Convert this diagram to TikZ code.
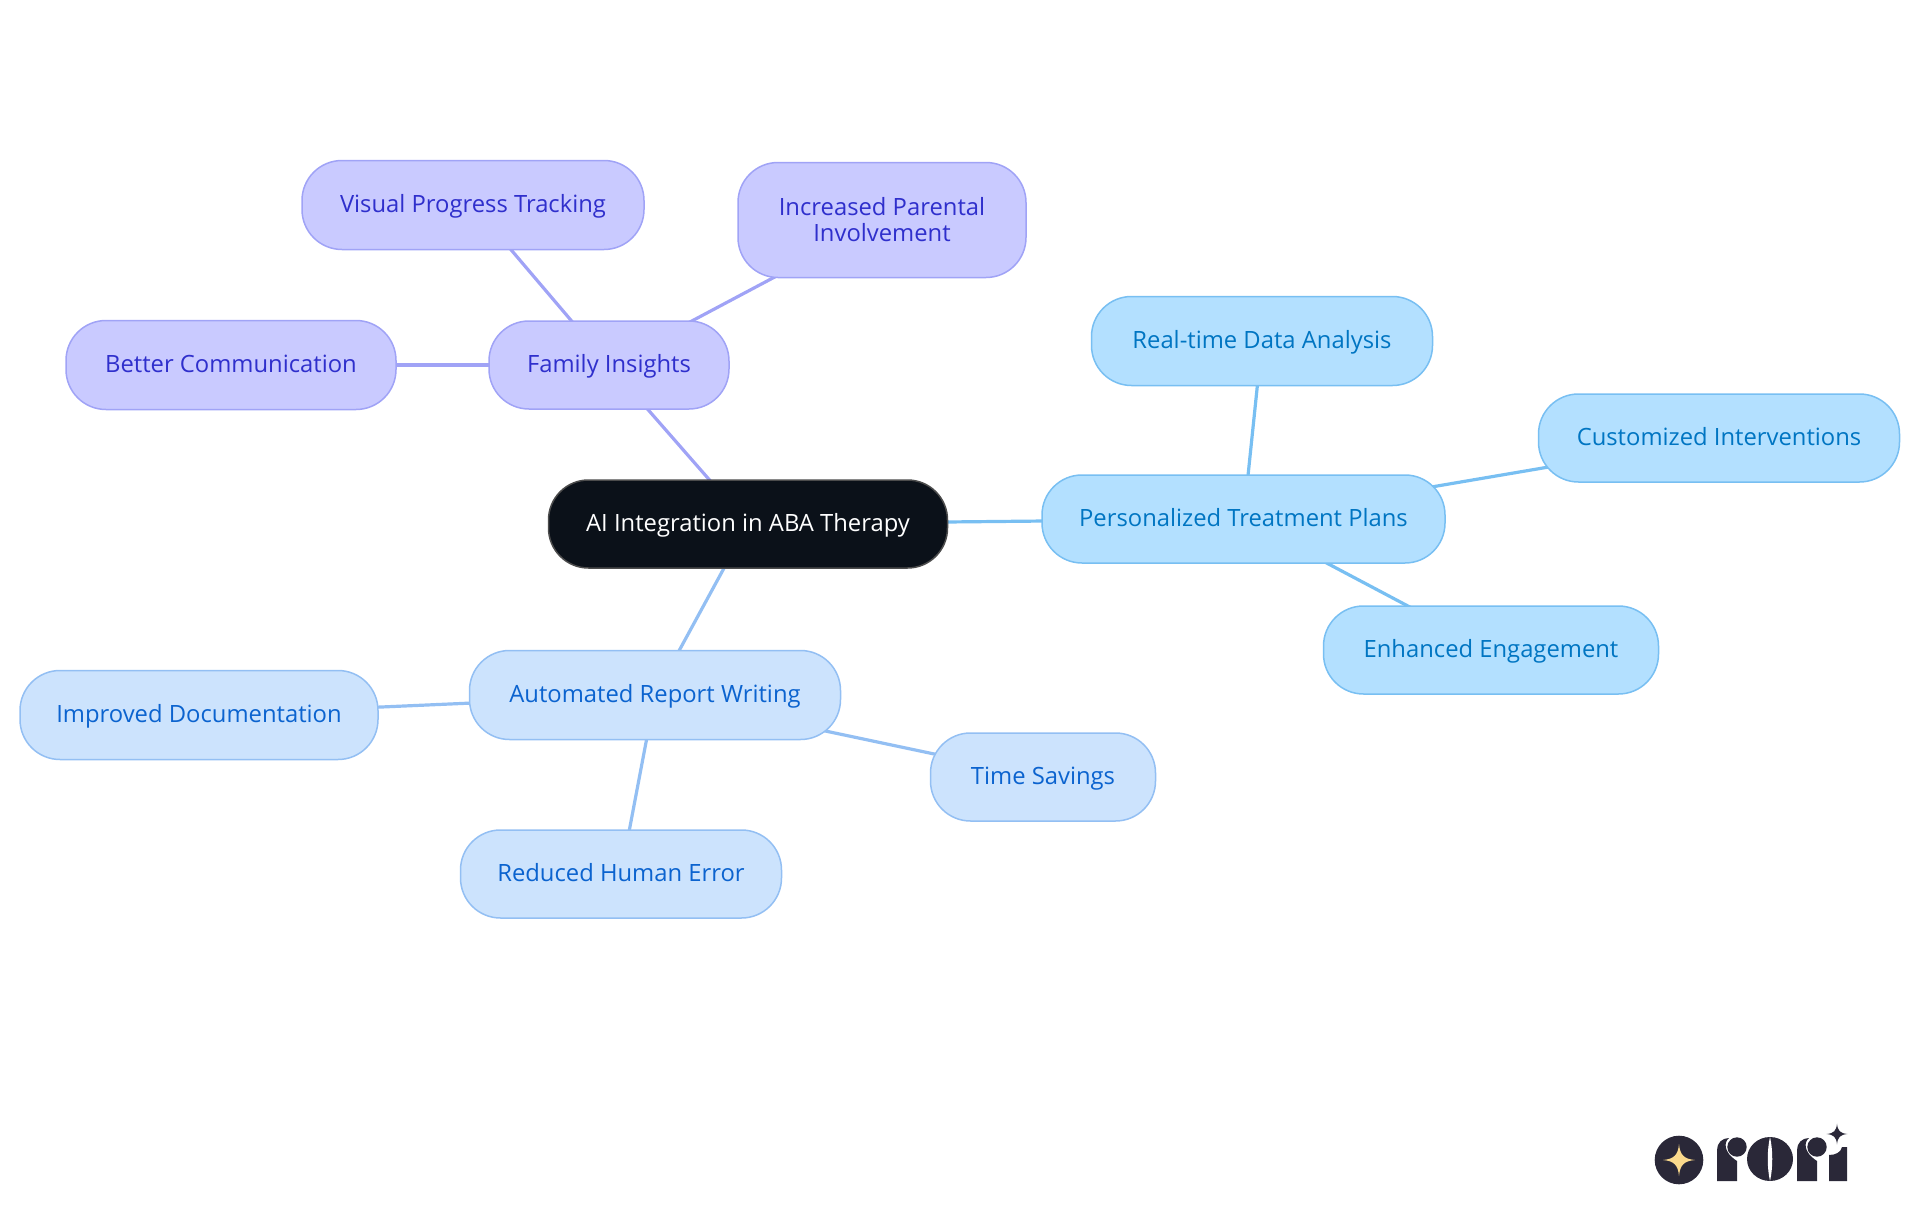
\documentclass[tikz,border=0pt]{standalone}
\usepackage{fontspec}
\setmainfont{Open Sans}
\usetikzlibrary{backgrounds}
\definecolor{rootfill}{HTML}{0B1119}
\definecolor{famfill}{HTML}{C9CAFF}
\definecolor{famline}{HTML}{A0A3F6}
\definecolor{famtext}{HTML}{2F2FCC}
\definecolor{planfill}{HTML}{B3E0FF}
\definecolor{planline}{HTML}{78BFF2}
\definecolor{plantext}{HTML}{0075C2}
\definecolor{repfill}{HTML}{CCE3FD}
\definecolor{repline}{HTML}{93BFF3}
\definecolor{reptext}{HTML}{0B63CF}
\definecolor{logodark}{HTML}{2A2838}
\definecolor{logostar}{HTML}{FAD98C}
\newcommand{\logostar}[4]{\fill[#4, shift={(#1,#2)}, scale=#3] (-16,0) .. controls (-5,-1) and (-1,-5) .. (0,-16) .. controls (1,-5) and (5,-1) .. (16,0) .. controls (5,1) and (1,5) .. (0,16) .. controls (-1,5) and (-5,1) .. (-16,0) -- cycle;}
\newcommand{\logor}[1]{\fill[logodark, shift={(#1,1137)}] (0,44) -- (0,13) .. controls (0,6) and (5,1) .. (12,1) .. controls (7,5) and (6,15) .. (20,24) -- (20,44) -- cycle;
  \fill[logodark, shift={(#1,1137)}] (20,10) circle[radius=9.7];}
\tikzset{
  box/.style={rectangle, rounded corners=40pt, line width=1.5pt, align=center, font=\fontsize{23.8}{26}\selectfont, inner sep=0pt, text height=19pt, text depth=5pt},
  rootbox/.style={box, draw=black!70, fill=rootfill, text=white},
  fambox/.style={box, draw=famline, fill=famfill, text=famtext},
  planbox/.style={box, draw=planline, fill=planfill, text=plantext},
  repbox/.style={box, draw=repline, fill=repfill, text=reptext},
  link/.style={line width=3.2pt},
}
\begin{document}
\begin{tikzpicture}[x=1pt, y=-1pt]
    \useasboundingbox (0,0) rectangle (1920,1215);
    \node (Root) at (748,524) [rootbox, minimum width=399pt, minimum height=88pt] {AI Integration in ABA Therapy};
    \node (Family) at (609,365) [fambox, minimum width=240pt, minimum height=88pt] {Family Insights};
    \node (Visual) at (473,205) [fambox, minimum width=342pt, minimum height=89pt] {Visual Progress Tracking};
    \node (Parental) at (882,220) [fambox, minimum width=288pt, minimum height=115pt, text height=, text depth=] {Increased Parental\\Involvement};
    \node (Better) at (231,365) [fambox, minimum width=330pt, minimum height=89pt] {Better Communication};
    \node (Plans) at (1243.5,519) [planbox, minimum width=403pt, minimum height=88pt] {Personalized Treatment Plans};
    \node (Realtime) at (1262,341) [planbox, minimum width=341pt, minimum height=89pt] {Real-time Data Analysis};
    \node (Custom) at (1719,438) [planbox, minimum width=361pt, minimum height=88pt] {Customized Interventions};
    \node (Engage) at (1491,650) [planbox, minimum width=335pt, minimum height=88pt] {Enhanced Engagement};
    \node (Report) at (655,695) [repbox, minimum width=371pt, minimum height=89pt] {Automated Report Writing};
    \node (Docs) at (199,715) [repbox, minimum width=358pt, minimum height=89pt] {Improved Documentation};
    \node (Time) at (1043,777) [repbox, minimum width=225pt, minimum height=88pt] {Time Savings};
    \node (Error) at (621,874) [repbox, minimum width=321pt, minimum height=88pt] {Reduced Human Error};
    \begin{scope}[on background layer]
      \draw[link, famline] (Root.center) -- (Family.center);
      \draw[link, famline] (Family.center) -- (Visual.center);
      \draw[link, famline] (Family.center) -- (Parental.center);
      \draw[link, famline] (Family.center) -- (Better.center);
      \draw[link, planline] (Root.center) -- (Plans.center);
      \draw[link, planline] (Plans.center) -- (Realtime.center);
      \draw[link, planline] (Plans.center) -- (Custom.center);
      \draw[link, planline] (Plans.center) -- (Engage.center);
      \draw[link, repline] (Root.center) -- (Report.center);
      \draw[link, repline] (Report.center) -- (Docs.center);
      \draw[link, repline] (Report.center) -- (Time.center);
      \draw[link, repline] (Report.center) -- (Error.center);
    \end{scope}
    \fill[logodark] (1679,1160) circle[radius=24.3];
    \logostar{1679}{1160}{1}{logostar}
    \logor{1717}
    \fill[logodark] (1770,1159) ellipse[x radius=23, y radius=22];
    \fill[white] (1770,1137) .. controls (1767,1150) and (1767,1168) .. (1770,1181) .. controls (1773,1168) and (1773,1150) .. (1770,1137) -- cycle;
    \logor{1797}
    \fill[logodark] (1829,1181) -- (1829,1155) .. controls (1836,1155) and (1841,1152) .. (1842,1147) -- (1847,1147) -- (1847,1181) -- cycle;
    \logostar{1837}{1134}{0.65}{logodark}
\end{tikzpicture}
\end{document}
